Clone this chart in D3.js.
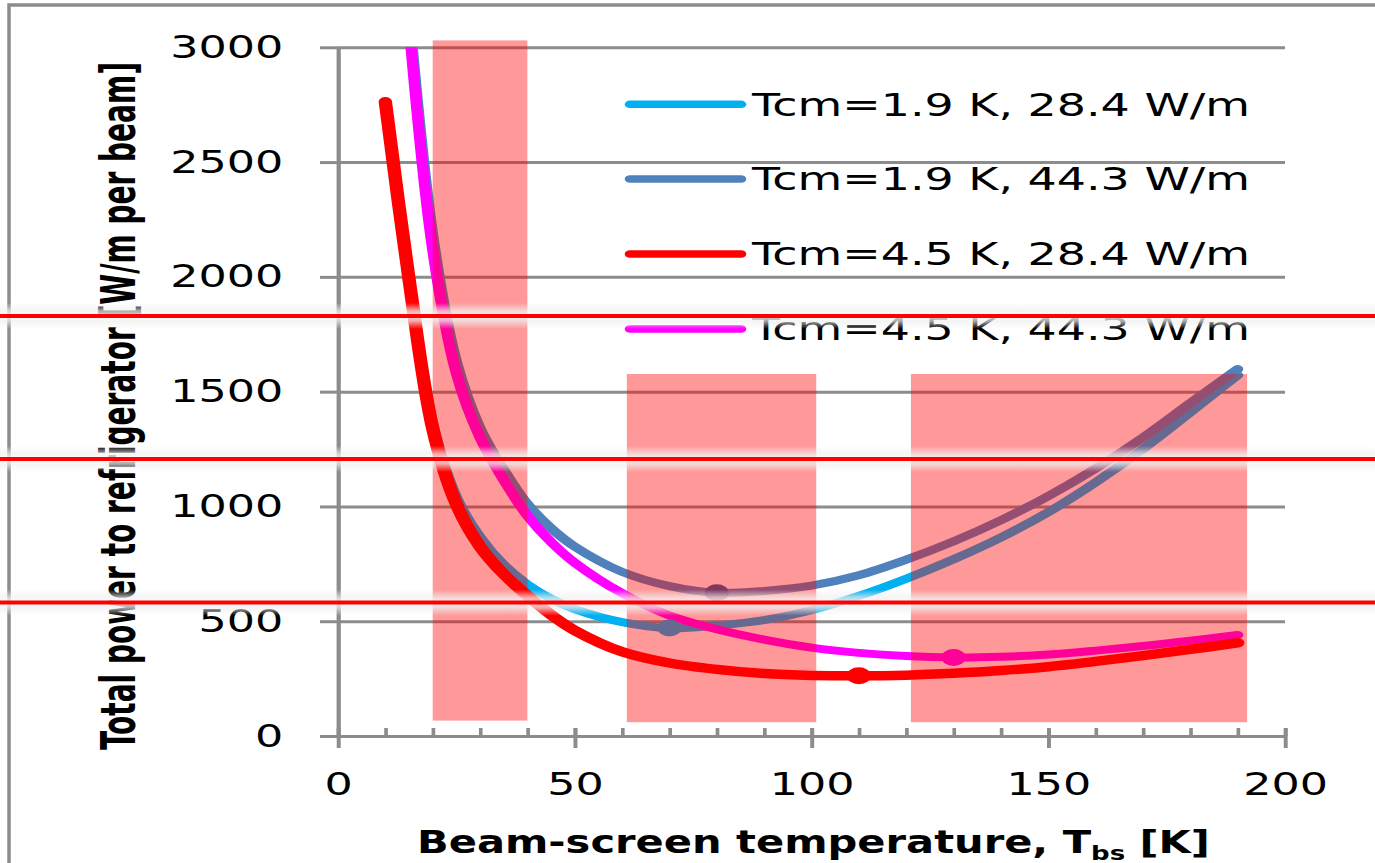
<!DOCTYPE html>
<html>
<head>
<meta charset="utf-8">
<script src="https://cdn.jsdelivr.net/npm/d3@7"></script>
<style>
body{margin:0;background:#fff}
svg{display:block}
</style>
</head>
<body>
<script>
// data
var tRed = [10,15,20,25,30,35,40,45,50,60,70,80,90,100,110,120,130,140,150,160,170,180,190];
var tOther = [15,20,25,30,35,40,45,50,60,70,80,90,100,110,120,130,140,150,160,170,180,190];

var cyanVals = [2010,1360,1040,865,745,660,598,553,496,470,482,505,548,610,685,770,865,975,1105,1250,1410,1572];
var steelVals = [3150,2180,1630,1340,1160,1010,905,825,715,653,624,632,655,700,768,848,940,1045,1165,1300,1450,1598];
var magentaVals = [3100,2120,1580,1300,1115,960,845,755,622,525,465,420,385,362,348,342,345,355,372,392,415,440];
var redVals = [2763,1990,1340,1010,825,705,612,528,460,367,318,290,272,264,262,265,273,285,302,325,350,377,406];

var legendLabels = ["Tcm=1.9 K, 28.4 W/m","Tcm=1.9 K, 44.3 W/m","Tcm=4.5 K, 28.4 W/m","Tcm=4.5 K, 44.3 W/m"];

// minimum markers
var markerT = [70, 80, 110, 130];
var markerV = [470, 624, 262, 342];

// shaded bands
var bandFrom = [20, 61, 121];
var bandTo = [40, 101, 192];
var bandLow = [67, 60, 60];
var bandHigh = [3030, 1577, 1577];

// red reference lines
var refLines = [1830, 1207, 581];

var xTicks = [0,50,100,150,200];
var xMinor = d3.range(0, 201, 10);
var yTicks = [0,500,1000,1500,2000,2500,3000];

var W = 1375, H = 863;
var SX = 1.41; // the picture is stretched sideways

var svg = d3.select("body").append("svg").attr("width", W).attr("height", H);

var defs = svg.append("defs");
var grad = defs.append("linearGradient").attr("id","halo").attr("x1",0).attr("y1",0).attr("x2",0).attr("y2",1);
grad.append("stop").attr("offset","0%").attr("stop-color","#eeeeee").attr("stop-opacity",0);
grad.append("stop").attr("offset","30%").attr("stop-color","#f0f0f0").attr("stop-opacity",0.7);
grad.append("stop").attr("offset","50%").attr("stop-color","#ffffff").attr("stop-opacity",0.85);
grad.append("stop").attr("offset","70%").attr("stop-color","#f0f0f0").attr("stop-opacity",0.7);
grad.append("stop").attr("offset","100%").attr("stop-color","#eeeeee").attr("stop-opacity",0);

// outer frame
svg.append("rect").attr("x",9).attr("y",5).attr("width",1420).attr("height",900)
	.attr("fill","none").attr("stroke","#8c8c8c").attr("stroke-width",3.5);

var g = svg.append("g").attr("transform","scale(" + SX + ",1)");

var x = d3.scaleLinear().domain([0,200]).range([338/SX, 1285/SX]);
var y = d3.scaleLinear().domain([0,3000]).range([736, 47.3]);

defs.append("clipPath").attr("id","plot").append("rect")
	.attr("x",0).attr("y",y(3000)).attr("width",W).attr("height",H);

var gridColor = "#8c8c8c";
var tickFont = "'DejaVu Sans', Verdana, sans-serif";

// gridlines
var grid = g.append("g").attr("transform","translate(" + x(0) + ",0)")
	.call(d3.axisLeft(y).tickValues(yTicks.slice(1)).tickSize(-(x(200)-x(0))).tickFormat(""));
grid.select(".domain").remove();
grid.selectAll("line").attr("stroke",gridColor).attr("stroke-width",3);

// y axis
var yAx = g.append("g").attr("transform","translate(" + x(0) + ",0)")
	.call(d3.axisLeft(y).tickValues(yTicks).tickFormat(d3.format("d"))
		.tickSizeInner(18/SX).tickSizeOuter(0).tickPadding(26));
yAx.select(".domain").attr("stroke",gridColor).attr("stroke-width",3);
yAx.selectAll("line").attr("stroke",gridColor).attr("stroke-width",3);
yAx.selectAll("text").attr("font-family",tickFont).attr("font-size",31.5).attr("fill","#000");

// x axis, minor ticks
var xMin = g.append("g").attr("transform","translate(0," + y(0) + ")")
	.call(d3.axisBottom(x).tickValues(xMinor).tickSize(8).tickFormat(""));
xMin.select(".domain").remove();
xMin.selectAll("line").attr("y2",-8).attr("stroke",gridColor).attr("stroke-width",2.6);

// x axis, major ticks
var xAx = g.append("g").attr("transform","translate(0," + y(0) + ")")
	.call(d3.axisBottom(x).tickValues(xTicks).tickFormat(d3.format("d"))
		.tickSizeInner(12).tickSizeOuter(0).tickPadding(24.6));
xAx.select(".domain").attr("stroke",gridColor).attr("stroke-width",3);
xAx.selectAll("line").attr("y1",-8).attr("stroke",gridColor).attr("stroke-width",2.8);
xAx.selectAll("text").attr("font-family",tickFont).attr("font-size",31.5).attr("fill","#000");

// curves
var series = [
	{name: legendLabels[0], t: tOther, v: cyanVals, color: "#00b0f0", w: 8},
	{name: legendLabels[1], t: tOther, v: steelVals, color: "#4f81bd", w: 8},
	{name: legendLabels[3], t: tOther, v: magentaVals, color: "#ff00ff", w: 8},
	{name: legendLabels[2], t: tRed, v: redVals, color: "#ff0000", w: 9.5}
];

var line = d3.line()
	.x(function(d){return x(d[0])})
	.y(function(d){return y(d[1])})
	.curve(d3.curveCatmullRom.alpha(0.5));

var curves = g.append("g").attr("clip-path","url(#plot)");
curves.selectAll("path")
	.data(series)
	.enter()
	.append("path")
	.attr("d",function(s){return line(d3.zip(s.t, s.v))})
	.attr("fill","none")
	.attr("stroke",function(s){return s.color})
	.attr("stroke-width",function(s){return s.w})
	.attr("stroke-linecap","round")
	.attr("stroke-linejoin","round");

var markerColors = ["#00b0f0","#2a5e9e","#ff0000","#ff00ff"];
g.selectAll(".marker")
	.data(markerT)
	.enter()
	.append("circle")
	.classed("marker", true)
	.attr("cx",function(d){return x(d)})
	.attr("cy",function(d,i){return y(markerV[i])})
	.attr("r",8.5)
	.attr("fill",function(d,i){return markerColors[i]});

// shaded bands
g.selectAll(".band")
	.data(bandFrom)
	.enter()
	.append("rect")
	.classed("band", true)
	.attr("x",function(d){return x(d)})
	.attr("width",function(d,i){return x(bandTo[i]) - x(d)})
	.attr("y",function(d,i){return y(bandHigh[i])})
	.attr("height",function(d,i){return y(bandLow[i]) - y(bandHigh[i])})
	.attr("fill","#ff0000")
	.attr("fill-opacity",0.4);

// legend
var legendColors = ["#00b0f0","#4f81bd","#ff0000","#ff00ff"];
var legendY = [104.3, 179, 254, 329];
var leg = g.append("g");
legendLabels.forEach(function(lab, i){
	leg.append("line")
		.attr("x1",630/SX).attr("x2",741/SX)
		.attr("y1",legendY[i]).attr("y2",legendY[i])
		.attr("stroke",legendColors[i]).attr("stroke-width",7.5).attr("stroke-linecap","round");
	leg.append("text")
		.attr("x",752/SX).attr("y",legendY[i] + 11.5)
		.attr("font-family",tickFont).attr("font-size",32).attr("fill","#000")
		.attr("textLength",498/SX).attr("lengthAdjust","spacingAndGlyphs")
		.text(lab);
});

// axis titles
var yTitle = g.append("text")
	.attr("transform","translate(" + (135/SX) + ",406) rotate(-90)")
	.attr("text-anchor","middle")
	.attr("font-family","'Liberation Sans Narrow','DejaVu Sans Condensed','Arial Narrow',sans-serif")
	.attr("font-weight","bold")
	.attr("font-size",34)
	.attr("textLength",688)
	.attr("lengthAdjust","spacingAndGlyphs")
	.attr("fill","#000")
	.text("Total power to refrigerator [W/m per beam]");

var xTitle = g.append("text")
	.attr("font-family",tickFont)
	.attr("font-weight","bold")
	.attr("font-size",32)
	.attr("fill","#000");
xTitle.append("tspan").text("Beam-screen temperature, T");
xTitle.append("tspan").attr("font-size",20).attr("dy",7).text("bs");
xTitle.append("tspan").attr("dy",-7).text(" [K]");
var natural = xTitle.node().getComputedTextLength();
var k = (793/SX) / natural;
xTitle.attr("transform","translate(" + (417/SX) + ",853) scale(" + k + ",1)");

// red reference lines with their light halo
var refs = svg.append("g");
refs.selectAll(".halo")
	.data(refLines)
	.enter()
	.append("rect")
	.attr("x",0).attr("width",W)
	.attr("y",function(d){return y(d) - 13})
	.attr("height",26)
	.attr("fill","url(#halo)");
refs.selectAll(".ref")
	.data(refLines)
	.enter()
	.append("line")
	.attr("x1",0).attr("x2",W)
	.attr("y1",function(d){return y(d)}).attr("y2",function(d){return y(d)})
	.attr("stroke","#ff0000").attr("stroke-width",4);
</script>
</body>
</html>
